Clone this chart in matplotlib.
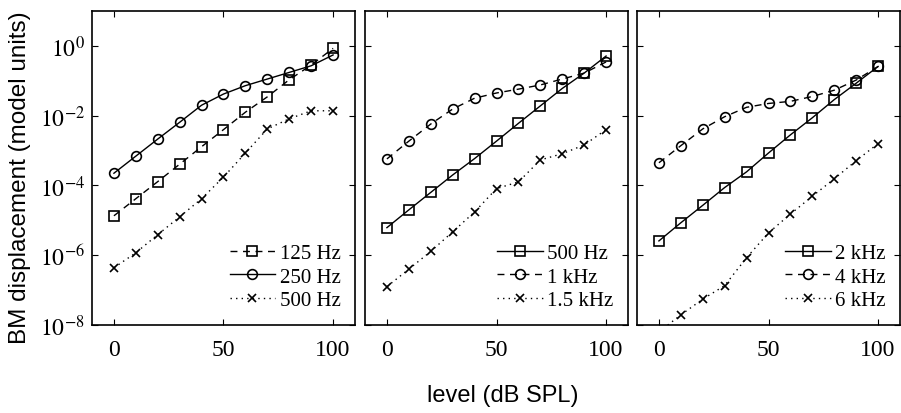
import matplotlib
matplotlib.use("Agg")
import matplotlib.pyplot as plt
import numpy as np

plt.rcParams['mathtext.fontset'] = 'stix'

levels = [0, 10, 20, 30, 40, 50, 60, 70, 80, 90, 100]

# Panel 1 (log10 of displacement)
p1_125 = [-4.87, -4.38, -3.89, -3.39, -2.89, -2.40, -1.90, -1.46, -0.97, -0.55, -0.07]
p1_250 = [-3.65, -3.16, -2.67, -2.19, -1.70, -1.38, -1.14, -0.95, -0.76, -0.57, -0.26]
p1_500 = [-6.36, -5.93, -5.41, -4.90, -4.38, -3.76, -3.07, -2.38, -2.09, -1.86, -1.86]
# Panel 2
p2_500 = [-5.21, -4.70, -4.20, -3.70, -3.23, -2.73, -2.22, -1.72, -1.22, -0.78, -0.29]
p2_1k = [-3.24, -2.73, -2.24, -1.81, -1.50, -1.35, -1.24, -1.12, -0.95, -0.78, -0.46]
p2_15k = [-6.90, -6.40, -5.89, -5.33, -4.76, -4.09, -3.90, -3.27, -3.09, -2.84, -2.40]
# Panel 3
p3_2k = [-5.59, -5.07, -4.57, -4.06, -3.61, -3.07, -2.55, -2.06, -1.54, -1.07, -0.59]
p3_4k = [-3.35, -2.86, -2.38, -2.03, -1.76, -1.65, -1.59, -1.45, -1.27, -0.98, -0.59]
p3_6k = [-8.20, -7.71, -7.26, -6.87, -6.07, -5.36, -4.82, -4.31, -3.81, -3.29, -2.80]

panels = [
    [(p1_125, '125 Hz', '--', 's'), (p1_250, '250 Hz', '-', 'o'), (p1_500, '500 Hz', ':', 'x')],
    [(p2_500, '500 Hz', '-', 's'), (p2_1k, '1 kHz', '--', 'o'), (p2_15k, '1.5 kHz', ':', 'x')],
    [(p3_2k, '2 kHz', '-', 's'), (p3_4k, '4 kHz', '--', 'o'), (p3_6k, '6 kHz', ':', 'x')],
]

ytick_vals = [1e-8, 1e-6, 1e-4, 1e-2, 1e0]
ytick_labels = [r'$10^{-8}$', r'$10^{-6}$', r'$10^{-4}$', r'$10^{-2}$', r'$10^{0}$']
xtick_vals = [0, 50, 100]

W, H = 901, 414
fig = plt.figure(figsize=(W / 100, H / 100), dpi=100)
lefts = [92, 365, 637]
pw = 263
top, bottom = 12, 326
serif = 'Liberation Serif'

for i, (left, series) in enumerate(zip(lefts, panels)):
    ax = fig.add_axes([left / W, (H - bottom) / H, pw / W, (bottom - top) / H])
    for vals, lab, ls, mk in series:
        y = 10.0 ** np.array(vals)
        kw = dict(color='black', marker=mk, lw=1.0,
                  markersize=7 if mk != 'x' else 5.5, markerfacecolor='none',
                  markeredgecolor='black', markeredgewidth=1.2, label=lab)
        if ls == '--':
            kw['linestyle'] = (0, (5, 4))
        elif ls == ':':
            kw['linestyle'] = (0, (1, 3))
        else:
            kw['linestyle'] = '-'
        ax.plot(levels, y, **kw)
    ax.set_yscale('log')
    ax.set_ylim(1e-8, 1e1)
    ax.set_xlim(-10, 110)
    ax.set_xticks(xtick_vals)
    ax.set_xticklabels([str(v) for v in xtick_vals], fontfamily=serif, fontsize=17)
    ax.set_yticks(ytick_vals)
    ax.yaxis.set_minor_locator(matplotlib.ticker.NullLocator())
    if i == 0:
        ax.set_yticklabels(ytick_labels, fontsize=17)
    else:
        ax.set_yticklabels([])
    ax.tick_params(direction='in', top=True, right=True, length=4, width=0.8)
    ax.tick_params(axis='x', pad=10)
    ax.tick_params(axis='y', pad=5)
    for sp in ax.spines.values():
        sp.set_linewidth(1.2)
    leg = ax.legend(loc='lower right', frameon=False, prop={'family': serif, 'size': 15},
                    handlelength=2.2, handletextpad=0.2, labelspacing=0.2,
                    borderaxespad=0.3, markerscale=1.0)

fig.text(20 / W, (H - 178) / H, 'BM displacement (model units)', rotation=90,
         ha='center', va='center', fontfamily='Liberation Sans', fontsize=17.5)
fig.text(503 / W, (H - 396) / H, 'level (dB SPL)', ha='center', va='center',
         fontfamily='Liberation Sans', fontsize=17)

fig.savefig('out.png', dpi=100)
